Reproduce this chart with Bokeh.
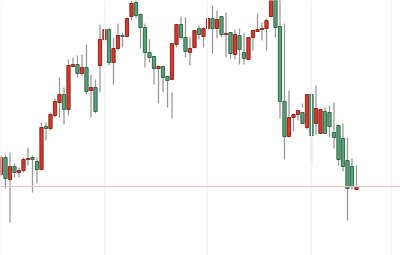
from bokeh.plotting import figure
from bokeh.models import Range1d, Span, ColumnDataSource
from bokeh.embed import file_html
from bokeh.resources import INLINE

# OHLC values (price units)
opens  = [126,143,121,134,128,130,141,143,139,131,174,172,185,198,206,191,234,236,227,233,
          210,213,235,261,271,238,252,265,264,284,298,286,273,248,244,232,234,224,221,256,
          276,263,248,253,272,264,272,282,272,284,266,268,246,265,248,241,263,269,271,272,
          284,302,274,199,164,183,186,188,173,206,177,167,189,188,168,175,162,140,134,111]
highs  = [145,146,148,137,133,143,153,145,143,178,178,188,202,223,213,241,243,245,246,256,
          226,221,276,274,272,263,277,268,283,300,300,287,277,261,244,235,235,225,208,261,
          284,283,263,260,275,273,277,295,290,282,288,268,271,272,268,257,267,287,278,282,
          287,305,302,277,210,187,187,197,193,211,215,178,193,195,198,176,177,163,142,135]
lows   = [124,112,78,123,123,128,135,108,117,130,160,170,183,183,176,185,233,223,225,206,
          183,187,208,258,235,216,250,253,263,280,282,252,233,238,216,197,208,193,182,253,
          261,243,235,252,261,253,271,247,262,263,243,242,241,236,236,253,250,269,260,250,
          283,263,182,141,163,169,180,193,171,135,166,167,167,163,152,135,129,80,111,111]
closes = [143,122,134,128,130,141,142,141,131,173,172,186,199,206,191,235,236,227,233,209,
          213,189,261,271,238,252,265,264,282,297,285,273,248,243,232,234,223,220,257,276,
          263,249,252,270,266,272,282,272,281,266,267,247,266,251,242,263,270,271,272,280,
          300,273,199,164,183,186,190,177,206,165,192,191,167,174,163,141,134,112,114,114]

grid_idx = [0, 23, 45.9, 69, 86.8]

n = len(opens)
idx = list(range(n))
up = [c >= o for o, c in zip(opens, closes)]
src = ColumnDataSource(dict(
    x=idx,
    top=[max(o, c) for o, c in zip(opens, closes)],
    bottom=[min(o, c) for o, c in zip(opens, closes)],
    high=highs, low=lows,
    fill=["#d4392d" if u else "#5c9f79" for u in up],
    edge=["#8f2a22" if u else "#2f6a4a" for u in up],
))

p = figure(width=400, height=255, output_backend="svg", toolbar_location=None,
           x_range=Range1d(-0.11, 88.78), y_range=Range1d(45, 300),
           min_border=0, background_fill_color="white")
p.outline_line_color = None
p.axis.visible = False
p.xgrid.visible = False
p.ygrid.visible = False

for g in grid_idx:
    p.add_layout(Span(location=g, dimension="height", line_color="#eef2f7", line_width=1))

p.add_layout(Span(location=closes[-1], dimension="width", line_color="#f0c4c4", line_width=1))

p.segment(x0="x", y0="low", x1="x", y1="high", source=src, line_color="#999999", line_width=1.3)
p.vbar(x="x", top="top", bottom="bottom", width=0.72, source=src,
       fill_color="fill", line_color="edge", line_width=1)

open("out.html", "w").write(file_html(p, INLINE))
